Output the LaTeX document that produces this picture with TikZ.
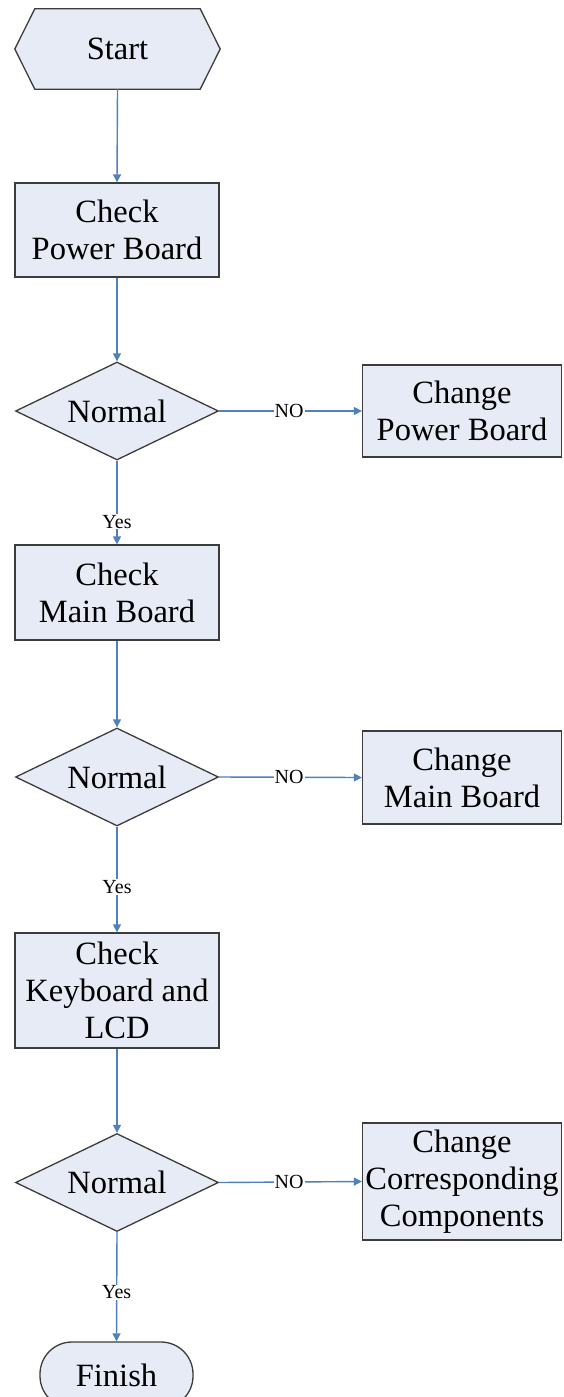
\documentclass[tikz,border=0pt]{standalone}
\usepackage{fontspec}
\setmainfont{Liberation Serif}
\usetikzlibrary{shapes.geometric,arrows.meta,backgrounds}
\definecolor{boxfill}{RGB}{230,235,245}
\definecolor{boxline}{RGB}{60,60,60}
\definecolor{arrblue}{RGB}{79,129,189}
\tikzset{
  base/.style={fill=boxfill, draw=boxline, line width=1.3pt, inner sep=0pt, align=center,
               font=\fontsize{32.5}{37}\selectfont},
  procbox/.style={base, rectangle, minimum width=#1, minimum height=94pt},
  procbox/.default=204pt,
  decision/.style={base, diamond, aspect=2.07, minimum width=203pt, minimum height=98pt},
  terminal/.style={base, rounded corners=32pt, minimum width=153pt, minimum height=66pt},
  hexnode/.style={inner sep=0pt, minimum width=205pt, minimum height=80pt, font=\fontsize{32.5}{37}\selectfont},
  arr/.style={draw=arrblue, line width=1.4pt, -{Triangle[width=8pt,length=8pt]}},
  lbl/.style={fill=white, inner sep=1pt, font=\fontsize{20}{22}\selectfont}
}
\begin{document}
\begin{tikzpicture}[x=1pt,y=-1pt]
\useasboundingbox (0,0) rectangle (563,1397);
% nodes
\node[hexnode] (start) at (117.5,49) {Start};
\begin{scope}[on background layer]
\fill[white] (0,0) rectangle (563,1397);
\path[fill=boxfill, draw=boxline, line width=1.3pt]
  ([xshift=20pt]start.north west) -- ([xshift=-20pt]start.north east) -- (start.east)
  -- ([xshift=-20pt]start.south east) -- ([xshift=20pt]start.south west) -- (start.west) -- cycle;
\end{scope}
\node[procbox] (cpb) at (117,230) {Check\\Power Board};
\node[decision] (d1) at (117,411) {Normal};
\node[procbox=199pt, minimum height=92pt] (chpb) at (462,411) {Change\\Power Board};
\node[procbox, minimum height=95pt] (cmb) at (117,592.5) {Check\\Main Board};
\node[decision] (d2) at (117,777) {Normal};
\node[procbox=199pt, minimum height=93pt] (chmb) at (462,777.5) {Change\\Main Board};
\node[procbox, minimum height=115pt] (ckl) at (117,990.5) {Check\\Keyboard and\\LCD};
\node[decision] (d3) at (117,1182.5) {Normal};
\node[procbox=199pt, minimum height=117pt] (chcc) at (462,1181.5) {Change\\Corresponding\\Components};
\node[terminal] (fin) at (116.5,1375) {Finish};
% connectors
\draw[arr] (start.south) -- (cpb.north);
\draw[arr] (cpb.south) -- (d1.north);
\draw[arr] (d1.east) -- node[lbl, pos=0.49]{NO} (chpb.west);
\draw[arr] (d1.south) -- node[lbl, pos=0.73]{Yes} (cmb.north);
\draw[arr] (cmb.south) -- (d2.north);
\draw[arr] (d2.east) -- node[lbl, pos=0.49]{NO} (chmb.west);
\draw[arr] (d2.south) -- node[lbl, pos=0.57]{Yes} (ckl.north);
\draw[arr] (ckl.south) -- (d3.north);
\draw[arr] (d3.east) -- node[lbl, pos=0.49]{NO} (chcc.west);
\draw[arr] (d3.south) -- node[lbl, pos=0.55]{Yes} (fin.north);
\end{tikzpicture}
\end{document}
